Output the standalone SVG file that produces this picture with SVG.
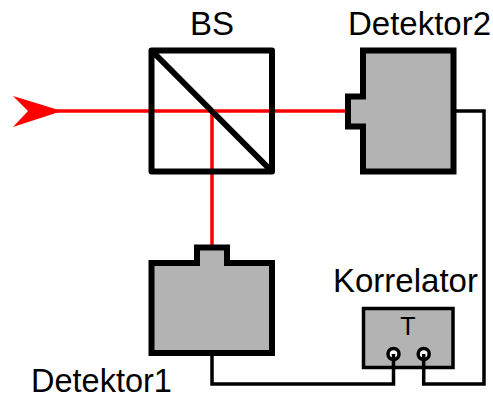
<svg xmlns="http://www.w3.org/2000/svg" width="493" height="394" viewBox="0 0 493 394">
<style>
text{font-family:"Liberation Sans",Arial,sans-serif;font-size:33px;fill:#000}
.det{fill:#b3b3b3;stroke:#000;stroke-width:6;stroke-linejoin:miter}
.beam{fill:none;stroke:#f00;stroke-width:3.500}
.wire{fill:none;stroke:#000;stroke-width:3.500;stroke-linejoin:miter}
.port{fill:#fff;stroke:#000;stroke-width:3.500}
</style>
<rect width="493" height="394" fill="#fff"/>
<g id="beams">
<path class="beam" d="M55 111H346M212 111V246"/>
<path d="M62 111L13 96L28 111L13 127Z" fill="#f00"/>
</g>
<g id="bs">
<path d="M151.500 50.500H272V171.500H151.500ZM151.500 50.500L272 171.500" fill="none" stroke="#000" stroke-width="6" stroke-linejoin="round"/>
<text x="212" y="35" text-anchor="middle">BS</text>
</g>
<g id="detektor2">
<path class="det" d="M363 50.500H453.500V171.500H363V126.500H348V96.500H363Z"/>
<text x="348" y="35">Detektor2</text>
</g>
<g id="detektor1">
<path class="det" d="M151.500 263H197V247.500H227V263H272V353H151.500Z"/>
<text x="31" y="392" style="font-size:32.500px">Detektor1</text>
</g>
<g id="korrelator">
<rect x="363.500" y="308.500" width="89.500" height="59" fill="#b3b3b3" stroke="#000" stroke-width="3.500"/>
<circle class="port" cx="393.500" cy="354" r="5.500"/>
<circle class="port" cx="423.700" cy="354" r="5.500"/>
<text x="408" y="335" text-anchor="middle" style="font-size:25px">T</text>
<text x="333" y="292">Korrelator</text>
</g>
<g id="connectors">
<path class="wire" d="M456 111H484V384H423.700V354"/>
<path class="wire" d="M212 356V384H393.500V354"/>
</g>
</svg>
